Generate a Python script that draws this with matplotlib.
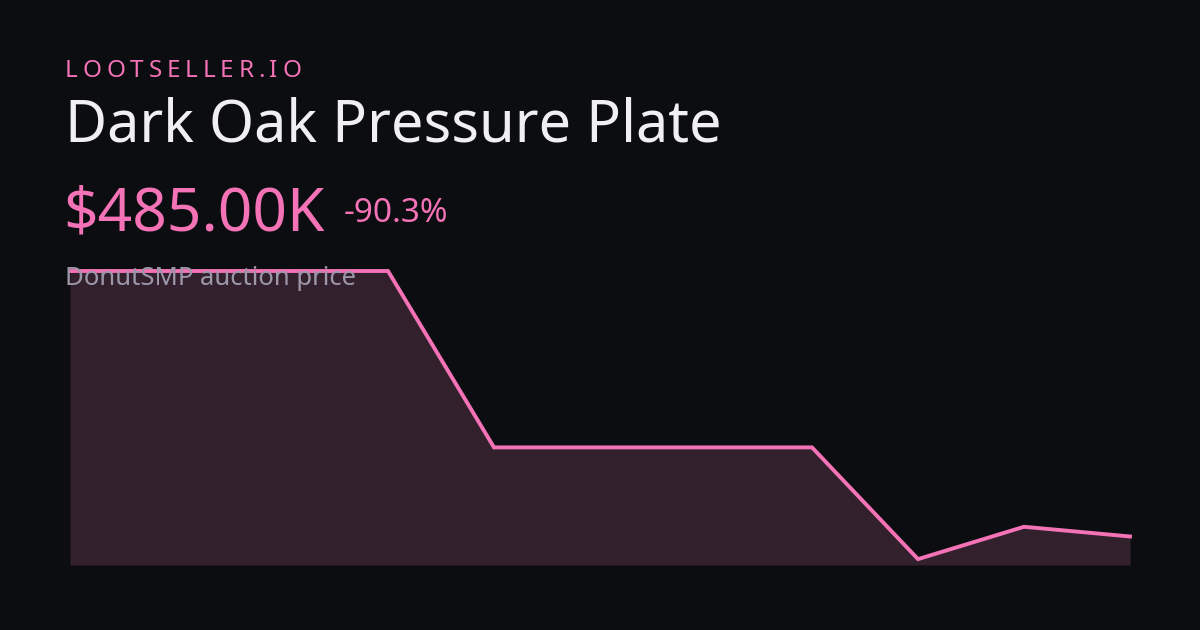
import numpy as np
import matplotlib.pyplot as plt

# price history (DonutSMP auction), oldest to newest
days = list(range(11))
prices = [5000000, 5000000, 5000000, 5000000, 2000000, 2000000, 2000000, 2000000,
          100000, 650000, 485000]

site = "LOOTSELLER.IO"
item = "Dark Oak Pressure Plate"
price_label = "$485.00K"
change_label = "-90.3%"
caption = "DonutSMP auction price"

bg = "#0c0d10"
pink = "#f472b6"
fill = "#33202d"

plt.rcParams['font.family'] = ['Noto Sans', 'DejaVu Sans']

W, H = 1200, 630
fig = plt.figure(figsize=(12, 6.3), dpi=100, facecolor=bg)

def fy(py):
    return 1 - py / H

# chart area
ax = fig.add_axes([70 / W, fy(565), 1060 / W, 294 / H])
ax.set_facecolor("none")
ax.fill_between(days, prices, 0, color=fill, lw=0)
ax.plot(days, prices, color=pink, lw=2.8, solid_joinstyle='miter', clip_on=False)
ax.set_xlim(0, 10)
ax.set_ylim(0, 5000000)
ax.axis('off')

# spaced brand label
x = 65
r = fig.canvas.get_renderer()
for ch in site:
    t = fig.text(x / W, fy(77), ch, color=pink, fontsize=17.5, va='baseline')
    w = t.get_window_extent(r).width
    x += w + 4.8

fig.text(65 / W, fy(141), item, color="#f0f0f3", fontsize=41.6, va='baseline')
fig.text(63 / W, fy(231), price_label, color=pink, fontsize=43.5, va='baseline')
fig.text(344 / W, fy(222), change_label, color=pink, fontsize=24, va='baseline')
fig.text(65 / W, fy(285), caption, color="#9c96a8", fontsize=18.5, va='baseline',
         zorder=0)

fig.savefig("out.png", dpi=100, facecolor=bg)
